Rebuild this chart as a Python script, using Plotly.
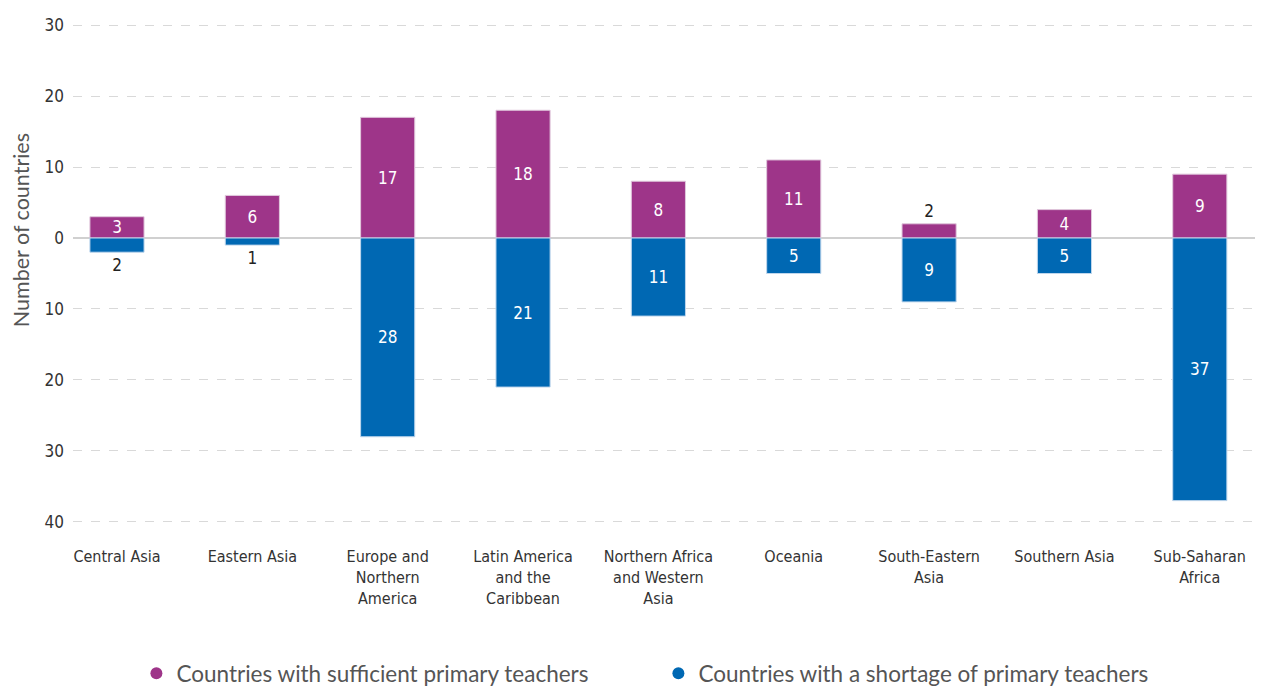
import plotly.graph_objects as go

regions = ["Central Asia", "Eastern Asia", "Europe and<br>Northern<br>America",
           "Latin America<br>and the<br>Caribbean", "Northern Africa<br>and Western<br>Asia",
           "Oceania", "South-Eastern<br>Asia", "Southern Asia", "Sub-Saharan<br>Africa"]
sufficient = [3, 6, 17, 18, 8, 11, 2, 4, 9]
shortage = [2, 1, 28, 21, 11, 5, 9, 5, 37]
ytick_vals = [30, 20, 10, 0, -10, -20, -30, -40]
ytick_text = ["30", "20", "10", "0", "10", "20", "30", "40"]

PURPLE = "#9E3589"
BLUE = "#0068B3"
NARROW = "DejaVu Sans Condensed, sans-serif"
x = list(range(len(regions)))

def pos(v):
    return "inside" if v >= 3 else "outside"

fig = go.Figure()
fig.add_trace(go.Bar(
    x=x, y=sufficient, width=0.4, marker=dict(color=PURPLE, line=dict(color="#E0C8DC", width=1)),
    text=[str(v) for v in sufficient], textposition=[pos(v) for v in sufficient],
    insidetextanchor="middle", constraintext="none", textangle=0,
    insidetextfont=dict(color="white", size=17, family=NARROW),
    outsidetextfont=dict(color="#222", size=17, family=NARROW),
    showlegend=False, cliponaxis=False, hoverinfo="skip"))
fig.add_trace(go.Bar(
    x=x, y=[-v for v in shortage], width=0.4, marker=dict(color=BLUE, line=dict(color="#BFD6EC", width=1)),
    text=[str(v) for v in shortage], textposition=[pos(v) for v in shortage],
    insidetextanchor="middle", constraintext="none", textangle=0,
    insidetextfont=dict(color="white", size=17, family=NARROW),
    outsidetextfont=dict(color="#222", size=17, family=NARROW),
    showlegend=False, cliponaxis=False, hoverinfo="skip"))
fig.add_trace(go.Scatter(x=[None], y=[None], mode="markers", name="Countries with sufficient primary teachers",
                         marker=dict(color=PURPLE, size=14, symbol="circle")))
fig.add_trace(go.Scatter(x=[None], y=[None], mode="markers", name="Countries with a shortage of primary teachers",
                         marker=dict(color=BLUE, size=14, symbol="circle")))

fig.update_layout(
    width=1255, height=679, barmode="overlay",
    paper_bgcolor="white", plot_bgcolor="white",
    margin=dict(l=65, r=5, t=16, b=164, autoexpand=False),
    font=dict(family=NARROW, size=16, color="#333"),
    legend=dict(orientation="h", x=0.494, xanchor="center", xref="paper", y=-0.302, yref="paper",
                yanchor="middle",
                font=dict(family="Lato, sans-serif", size=22.5, color="#555"),
                itemsizing="constant", entrywidth=477, entrywidthmode="pixels"),
    xaxis=dict(tickmode="array", tickvals=x, ticktext=regions, range=[-0.325, 8.43],
               showgrid=False, zeroline=False, showline=False, ticks="", ticklabelstandoff=22,
               tickfont=dict(family=NARROW, size=16, color="#333")),
    yaxis=dict(range=[-40.15, 30.15], tickmode="array", tickvals=ytick_vals, ticktext=ytick_text,
               showgrid=True, gridcolor="#D9D9D9", griddash="dash", gridwidth=1,
               zeroline=True, zerolinecolor="#D0D0D0", zerolinewidth=1.5,
               showline=False, ticks="", ticklabelstandoff=8,
               tickfont=dict(family=NARROW, size=17, color="#333")),
    annotations=[dict(text="Number of countries", textangle=-90, showarrow=False,
                      xref="paper", yref="paper", x=-0.0438, y=0.587,
                      xanchor="center", yanchor="middle",
                      font=dict(family="Lato, sans-serif", size=21.5, color="#555"))],
)
fig.write_html("out.html")
